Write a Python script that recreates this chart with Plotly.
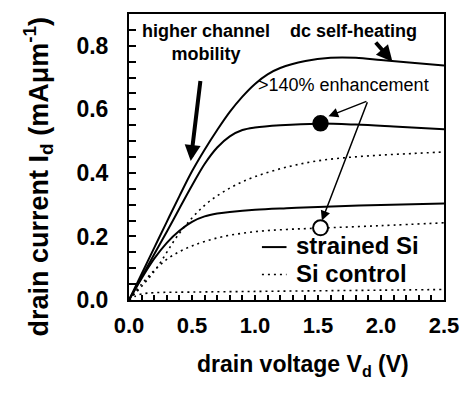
import plotly.graph_objects as go

# Output characteristics: drain voltage (V) vs drain current (mA/um)
strained_hi_vd = [0, 0.1, 0.2, 0.3, 0.4, 0.5, 0.6, 0.7, 0.8, 0.9, 1.0, 1.1, 1.2, 1.4, 1.6, 1.8, 2.0, 2.2, 2.5]
strained_hi_id = [0, 0.082, 0.164, 0.246, 0.327, 0.405, 0.473, 0.535, 0.592, 0.64, 0.68, 0.71, 0.73, 0.752, 0.762, 0.762, 0.755, 0.748, 0.738]

strained_mid_vd = [0, 0.1, 0.2, 0.3, 0.4, 0.5, 0.6, 0.7, 0.8, 0.9, 1.0, 1.2, 1.5, 1.8, 2.1, 2.5]
strained_mid_id = [0, 0.072, 0.144, 0.215, 0.288, 0.36, 0.428, 0.48, 0.515, 0.535, 0.543, 0.55, 0.555, 0.552, 0.546, 0.537]

strained_lo_vd = [0, 0.1, 0.2, 0.3, 0.4, 0.5, 0.6, 0.7, 0.8, 1.0, 1.25, 1.5, 2.0, 2.5]
strained_lo_id = [0, 0.068, 0.13, 0.18, 0.218, 0.246, 0.263, 0.272, 0.277, 0.284, 0.289, 0.293, 0.299, 0.304]

control_hi_vd = [0, 0.2, 0.4, 0.6, 0.8, 1.0, 1.25, 1.5, 1.75, 2.0, 2.25, 2.5]
control_hi_id = [0, 0.09, 0.21, 0.298, 0.352, 0.388, 0.418, 0.438, 0.449, 0.456, 0.461, 0.466]

control_mid_vd = [0, 0.1, 0.2, 0.3, 0.4, 0.5, 0.6, 0.75, 1.0, 1.25, 1.5, 2.0, 2.5]
control_mid_id = [0, 0.05, 0.093, 0.128, 0.152, 0.17, 0.184, 0.2, 0.215, 0.222, 0.226, 0.234, 0.243]

control_lo_vd = [0, 0.05, 0.1, 0.2, 0.5, 1.0, 1.5, 2.0, 2.5]
control_lo_id = [0, 0.012, 0.019, 0.023, 0.025, 0.027, 0.029, 0.031, 0.033]

# Highlighted comparison point
mark_vd = [1.52]
mark_strained_id = [0.556]
mark_control_id = [0.227]

FONT = "Liberation Sans, Arial, sans-serif"

fig = go.Figure()

solid = dict(color="black", width=2, shape="spline", smoothing=1.0)
dotted = dict(color="black", width=1.6, dash="2px,4px", shape="spline", smoothing=1.0)

for vd, idd in [(strained_hi_vd, strained_hi_id),
                (strained_mid_vd, strained_mid_id),
                (strained_lo_vd, strained_lo_id)]:
    fig.add_trace(go.Scatter(x=vd, y=idd, mode="lines", line=solid,
                             name="strained Si", hoverinfo="skip"))

for vd, idd in [(control_hi_vd, control_hi_id),
                (control_mid_vd, control_mid_id),
                (control_lo_vd, control_lo_id)]:
    fig.add_trace(go.Scatter(x=vd, y=idd, mode="lines", line=dotted,
                             name="Si control", hoverinfo="skip"))

fig.add_trace(go.Scatter(x=mark_vd, y=mark_strained_id, mode="markers",
                         marker=dict(size=15, color="black",
                                     line=dict(color="black", width=1.5))))
fig.add_trace(go.Scatter(x=mark_vd, y=mark_control_id, mode="markers",
                         marker=dict(size=15, color="white",
                                     line=dict(color="black", width=2))))

axis_common = dict(
    showline=True, linecolor="black", linewidth=2, mirror=True,
    showgrid=False, zeroline=False, ticks="inside", tickcolor="black",
    tickwidth=1.5, tickformat=".1f",
)

fig.update_xaxes(range=[0, 2.5], dtick=0.5, tick0=0, ticklen=5,
                 ticklabelstandoff=5,
                 tickfont=dict(family=FONT, size=22, color="black", weight="bold"),
                 minor=dict(dtick=0.1, ticks="inside", ticklen=5,
                            tickwidth=1.5, tickcolor="black"),
                 **axis_common)
fig.update_yaxes(range=[0, 0.9], dtick=0.2, tick0=0, ticklen=7,
                 ticklabelstandoff=14,
                 tickfont=dict(family=FONT, size=23, color="black", weight="bold"),
                 minor=dict(dtick=0.05, ticks="inside", ticklen=7,
                            tickwidth=1.5, tickcolor="black"),
                 **axis_common)

annotations = [
    # axis titles
    dict(text="<b>drain voltage V<sub>d</sub> (V)</b>", xref="paper", yref="paper",
         x=0.553, y=-0.229, xanchor="center", yanchor="middle", showarrow=False,
         font=dict(size=23)),
    dict(text="<b>drain current I<sub>d</sub> (mA\u03bcm<sup>-1</sup>)</b>",
         xref="paper", yref="paper", x=-0.2875, y=0.43, textangle=-90,
         xanchor="center", yanchor="middle", showarrow=False, font=dict(size=27)),
    # text labels
    dict(text="<b>higher channel<br>mobility</b>", x=0.609, y=0.809,
         xref="x", yref="y", showarrow=False, font=dict(size=18)),
    dict(text="<b>dc self-heating</b>", x=1.785, y=0.847,
         xref="x", yref="y", showarrow=False, font=dict(size=18)),
    dict(text=">140% enhancement", x=1.70, y=0.678,
         xref="x", yref="y", showarrow=False, font=dict(size=18)),
    # thick arrows
    dict(text="", x=0.49, y=0.4375, ax=0.568, ay=0.694, xref="x", yref="y",
         axref="x", ayref="y", showarrow=True, arrowhead=2, arrowwidth=4,
         arrowsize=0.8, arrowcolor="black", standoff=0),
    dict(text="", x=2.091, y=0.75, ax=1.948, ay=0.815, xref="x", yref="y",
         axref="x", ayref="y", showarrow=True, arrowhead=2, arrowwidth=4,
         arrowsize=0.8, arrowcolor="black", standoff=0),
    # thin arrows to the highlighted points
    dict(text="", x=1.583, y=0.578, ax=1.896, ay=0.627, xref="x", yref="y",
         axref="x", ayref="y", showarrow=True, arrowhead=2, arrowwidth=1.5,
         arrowsize=1.3, arrowcolor="black", standoff=0),
    dict(text="", x=1.531, y=0.25, ax=1.896, ay=0.627, xref="x", yref="y",
         axref="x", ayref="y", showarrow=True, arrowhead=2, arrowwidth=1.5,
         arrowsize=1.3, arrowcolor="black", standoff=0),
    # legend labels
    dict(text="<b>strained Si</b>", xref="paper", yref="paper", x=0.525, y=0.191,
         xanchor="left", yanchor="middle", showarrow=False, font=dict(size=24)),
    dict(text="<b>Si control</b>", xref="paper", yref="paper", x=0.525, y=0.094,
         xanchor="left", yanchor="middle", showarrow=False, font=dict(size=24)),
]

shapes = [
    dict(type="line", xref="paper", yref="paper", x0=0.422, x1=0.50,
         y0=0.185, y1=0.185, line=dict(color="black", width=2)),
    dict(type="line", xref="paper", yref="paper", x0=0.422, x1=0.50,
         y0=0.089, y1=0.089, line=dict(color="black", width=1.6, dash="2px,4px")),
]

fig.update_layout(
    width=471, height=395,
    margin=dict(l=129, r=22, t=12, b=95),
    plot_bgcolor="white", paper_bgcolor="white",
    showlegend=False,
    font=dict(family=FONT, color="black"),
    annotations=annotations,
    shapes=shapes,
)

fig.write_html("out.html")
